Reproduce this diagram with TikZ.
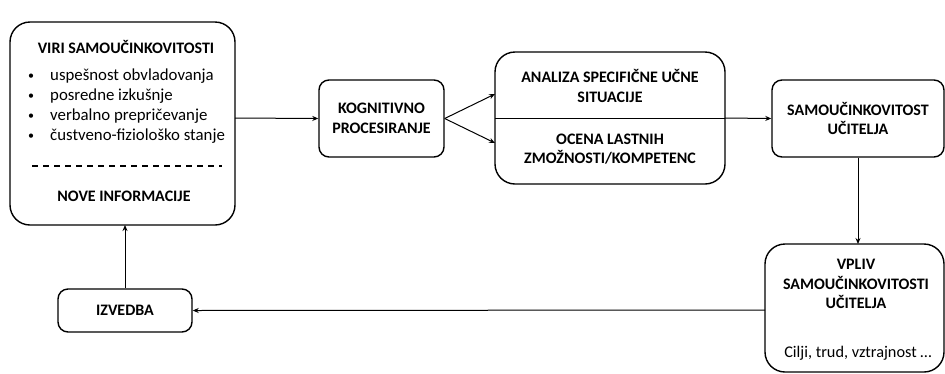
\documentclass[tikz,border=0pt]{standalone}
\usepackage{fontspec}
\setmainfont{Carlito}
\usetikzlibrary{arrows.meta}
\begin{document}
\begin{tikzpicture}[x=1pt,y=-1pt,
  box/.style={draw,line width=1.4pt,rounded corners=#1},
  box/.default=10pt,
  conn/.style={line width=1pt,-{Stealth[length=6pt,width=5pt]}},
  lbl/.style={font=\fontsize{16}{19.5}\selectfont\bfseries,align=center},
  txt/.style={font=\fontsize{16.8}{19}\selectfont,anchor=west,inner sep=0pt},
  bul/.style={font=\fontsize{12}{14}\selectfont,inner sep=0pt}]
\useasboundingbox (0,0) rectangle (945,373);
% boxes
\draw[box=20pt] (10,22) rectangle (235,225);
\coordinate (viriB) at (125,225);
\coordinate (viriR) at (235,118);
\node[lbl] (viri) at (126,47) {VIRI SAMOUČINKOVITOSTI};
\node[bul] (d1) at (31,77) {•};
\node[bul] (d2) at (31,97) {•};
\node[bul] (d3) at (31,117) {•};
\node[bul] (d4) at (31,137) {•};
\node[txt] (b1) at (50,76) {uspešnost obvladovanja};
\node[txt] (b2) at (50,96) {posredne izkušnje};
\node[txt] (b3) at (50,116) {verbalno prepričevanje};
\node[txt] (b4) at (50,136) {čustveno-fiziološko stanje};
\draw[line width=1.3pt,dash pattern=on 6pt off 5pt] (32,166) -- (222,166);
\node[lbl] (nove) at (124,196) {NOVE INFORMACIJE};

\node[box,minimum width=125pt,minimum height=77pt,lbl] (kog) at (381.5,118.5) {KOGNITIVNO\\PROCESIRANJE};

\draw[box=20pt] (495,52) rectangle (725,184);
\draw[line width=1pt] (495,118) -- (725,118);
\coordinate (anaT) at (495,94);
\coordinate (anaB) at (495,143);
\coordinate (anaR) at (725,118);
\node[lbl] (ana) at (610,86) {ANALIZA SPECIFIČNE UČNE\\SITUACIJE};
\node[lbl] (ocena) at (610,149) {OCENA LASTNIH\\ZMOŽNOSTI/KOMPETENC};

\node[box,minimum width=172pt,minimum height=77pt,lbl] (samo) at (858,118.5) {SAMOUČINKOVITOST\\UČITELJA};

\draw[box=20pt] (765,244) rectangle (944,372);
\coordinate (vplT) at (858,244);
\coordinate (vplL) at (765,310);
\node[lbl] (vpliv) at (856,284) {VPLIV\\SAMOUČINKOVITOSTI\\UČITELJA};
\node[font=\fontsize{16.3}{19}\selectfont] (cilji) at (858,353) {Cilji, trud, vztrajnost …};

\node[box,minimum width=134pt,minimum height=43pt,lbl] (izv) at (125,310.5) {IZVEDBA};

% connectors
\draw[conn] (viriR) -- (kog.west);
\draw[conn] (kog.east) -- (anaT);
\draw[conn] (kog.east) -- (anaB);
\draw[conn] (anaR) -- (samo.west);
\draw[conn] (samo.south) -- (vplT);
\draw[conn] (vplL) -- (izv.east);
\draw[conn] (izv.north) -- (viriB);
\end{tikzpicture}
\end{document}
